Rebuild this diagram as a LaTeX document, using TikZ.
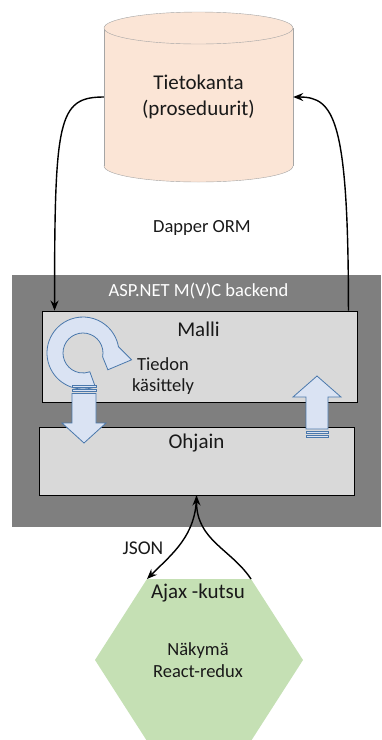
\documentclass[tikz,border=0pt]{standalone}
\usepackage{fontspec}
\setmainfont{Carlito}
\usetikzlibrary{calc,arrows.meta}

\definecolor{dbpeach}{HTML}{FBE5D6}
\definecolor{dbline}{HTML}{A5A5A5}
\definecolor{backgray}{HTML}{7F7F7F}
\definecolor{boxgray}{HTML}{D9D9D9}
\definecolor{arrowfill}{HTML}{DAE3F3}
\definecolor{arrowline}{HTML}{4A78AC}
\definecolor{viewgreen}{HTML}{C5E0B4}

\newcommand{\bigtxt}{\fontsize{21}{25.5}\selectfont}
\newcommand{\smalltxt}{\fontsize{18.5}{21.5}\selectfont}

\begin{document}
\begin{tikzpicture}[x=1pt, y=-1pt,
    layerbox/.style={draw=black, line width=0.9pt, fill=boxgray, minimum width=315pt},
    link/.style={-{Stealth[length=10pt,width=8pt]}, line width=1.4pt},
    blockarrow/.style={fill=arrowfill, draw=arrowline, line width=0.8pt},
    bigtext/.style={font=\bigtxt, align=center, inner sep=0pt, text=black!90},
    smalltext/.style={font=\smalltxt, align=center, inner sep=0pt, text=black!90}]
    \useasboundingbox (0,0) rectangle (381,740);

    % Tietokanta (cylinder)
    \filldraw[fill=dbpeach, draw=dbline] (198.5,166) ellipse[x radius=94.5pt, y radius=16pt];
    \fill[dbpeach] (104,28) rectangle (293,166);
    \draw[dbline] (104,28) -- (104,166) (293,28) -- (293,166);
    \filldraw[fill=dbpeach, draw=dbline] (198.5,28) ellipse[x radius=94.5pt, y radius=16pt];
    \node[bigtext, minimum width=189pt, minimum height=170pt] (db) at (198.5,97) {Tietokanta\\(proseduurit)};

    \node[smalltext] (dapper) at (202,228) {Dapper ORM};

    % backend
    \fill[backgray] (12,275) rectangle (381,527);
    \node[smalltext, text=white] (asp) at (198.5,291) {ASP.NET M(V)C backend};

    \node[layerbox, minimum height=91pt] (malli) at (199.5,356.5) {};
    \node[layerbox, minimum height=68pt] (ohjain) at (196.5,461) {};
    \node[bigtext] (mallilbl) at ($(malli.north)+(-1,19)$) {Malli};
    \node[bigtext] (ohjainlbl) at ($(ohjain.north)+(0,16)$) {Ohjain};
    \node[smalltext] (tiedon) at (163,376) {Tiedon\\käsittely};

    % circular arrow (y up inside)
    \begin{scope}[shift={(83,353)}, y={(0pt,1pt)}]
        \filldraw[blockarrow] (-70:36) arc[start angle=-70, end angle=-350, radius=36]
            -- (-8:49) -- (-34:30) -- (-11:20)
            arc[start angle=-11, end angle=290, radius=20] -- cycle;
    \end{scope}

    % down arrow
    \filldraw[blockarrow] (72,385) rectangle (96,387.5) (72,389.5) rectangle (96,391.5);
    \filldraw[blockarrow] (72,393.5) -- (96,393.5) -- (96,423) -- (106,423) -- (84,443)
        -- (62,423) -- (72,423) -- cycle;

    % up arrow
    \filldraw[blockarrow] (306,431) rectangle (328,433) (306,435.5) rectangle (328,437.5);
    \filldraw[blockarrow] (306,429) -- (328,429) -- (328,397) -- (341,397) -- (317,376)
        -- (293,397) -- (306,397) -- cycle;

    % Nakyma (hexagon)
    \fill[viewgreen] (147,579) -- (251,579) -- (303,660) -- (251,741) -- (147,741) -- (95,660) -- cycle;
    \coordinate (ajaxL) at (147,579);
    \coordinate (ajaxR) at (251,579);
    \node[bigtext] (ajax) at (198,593) {Ajax -kutsu};
    \node[smalltext] (nakyma) at (198,660) {Näkymä\\React-redux};
    \node[font=\fontsize{19.5}{22}\selectfont, inner sep=0pt, text=black!90] (json) at (143,548) {JSON};

    % connectors
    \coordinate (inL) at ($(malli.north west)+(13,0)$);
    \coordinate (outR) at ($(malli.north east)+(-9,0)$);
    \draw[link] (db.west) .. controls +(-46,0) and +(0,-191) .. (inL);
    \draw[link] (outR) .. controls +(0,-191) and +(41,0) .. (db.east);
    \draw[link] (ohjain.south) .. controls +(0,40) and +(25,-25) .. (ajaxL);
    \draw[link] (ajaxR) .. controls +(-20,-30) and +(0,45) .. (ohjain.south);
\end{tikzpicture}
\end{document}
